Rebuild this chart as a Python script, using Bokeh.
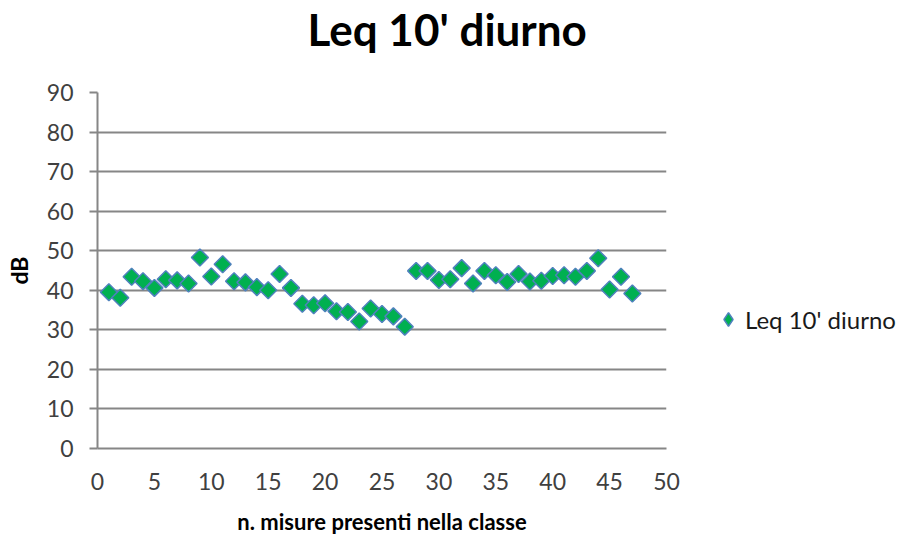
import math
from bokeh.plotting import figure
from bokeh.models import (Range1d, FixedTicker, Legend, LegendItem, ColumnDataSource, Title)
from bokeh.embed import file_html
from bokeh.resources import INLINE

# Data
n_misure = list(range(1, 48))
leq_diurno = [39.5, 38.1, 43.4, 42.3, 40.6, 42.8, 42.5, 41.7, 48.3, 43.5,
              46.6, 42.3, 42.0, 40.8, 40.0, 44.1, 40.6, 36.6, 36.2, 36.7,
              34.7, 34.5, 32.1, 35.4, 34.0, 33.4, 30.8, 44.9, 44.9, 42.6,
              42.8, 45.6, 41.7, 44.9, 43.8, 42.1, 44.1, 42.2, 42.4, 43.6,
              43.8, 43.4, 44.9, 48.1, 40.2, 43.4, 39.2]
x_ticks = list(range(0, 51, 5))
y_ticks = list(range(0, 91, 10))
series_name = "Leq 10' diurno"

FONT = "Lato"
GRID = "#868686"
FILL = "#00B050"
EDGE = "#4F81BD"

p = figure(frame_width=569, frame_height=356, output_backend="svg", toolbar_location=None,
           x_range=Range1d(0, 50), y_range=Range1d(0, 90),
           min_border_left=97, min_border_right=10, min_border_top=92, min_border_bottom=86)

# blank spacer between the title and the plot area
p.add_layout(Title(text=" ", text_font=FONT, text_font_size="28px", standoff=0), "above")

p.title.text = series_name
p.title.align = "left"
p.title.vertical_align = "top"
p.title.offset = 210
p.title.standoff = 0
p.title.text_font = FONT
p.title.text_font_style = "bold"
p.title.text_font_size = "44px"
p.title.text_color = "#000000"

p.outline_line_color = None
p.background_fill_color = "white"

p.xaxis.ticker = FixedTicker(ticks=x_ticks)
p.yaxis.ticker = FixedTicker(ticks=y_ticks)

for ax in (p.xaxis[0], p.yaxis[0]):
    ax.axis_line_color = GRID
    ax.axis_line_width = 2
    ax.major_label_text_font = FONT
    ax.major_label_text_font_size = "23px"
    ax.major_label_text_color = "#404040"
    ax.minor_tick_line_color = None
    ax.axis_label_text_font = FONT
    ax.axis_label_text_font_style = "bold"
    ax.axis_label_text_font_size = "23px"
    ax.axis_label_text_color = "#000000"

p.xaxis.major_tick_line_color = None
p.xaxis.major_label_standoff = 18
p.xaxis.axis_label = "n. misure presenti nella classe"
p.xaxis.axis_label_text_font_size = "22px"
p.xaxis.axis_label_standoff = 15

p.yaxis.major_tick_line_color = GRID
p.yaxis.major_tick_line_width = 2
p.yaxis.major_tick_out = 8
p.yaxis.major_tick_in = 0
p.yaxis.major_label_standoff = 16
p.yaxis.axis_label = "dB"
p.yaxis.axis_label_standoff = 11

p.xgrid.grid_line_color = None
p.ygrid.grid_line_color = GRID
p.ygrid.grid_line_width = 2

src = ColumnDataSource(dict(x=n_misure, y=leq_diurno))

# diamond renderer used as the legend swatch (drawn first, hidden under the markers)
key = p.scatter("x", "y", source=src, marker="diamond", size=9,
                fill_color=FILL, line_color=EDGE, line_width=1.5)
p.scatter("x", "y", source=src, marker="square", angle=math.pi / 4, size=12,
          fill_color=FILL, line_color=EDGE, line_width=1.5)

legend = Legend(items=[LegendItem(label=series_name, renderers=[key])],
                location=(45, 109), border_line_color=None,
                background_fill_alpha=0,
                label_text_font=FONT, label_text_font_size="24px",
                label_text_color="#1a1a1a", glyph_width=34, glyph_height=40,
                label_standoff=0, padding=0, margin=0)
p.add_layout(legend, "right")

open("out.html", "w").write(file_html(p, INLINE))
